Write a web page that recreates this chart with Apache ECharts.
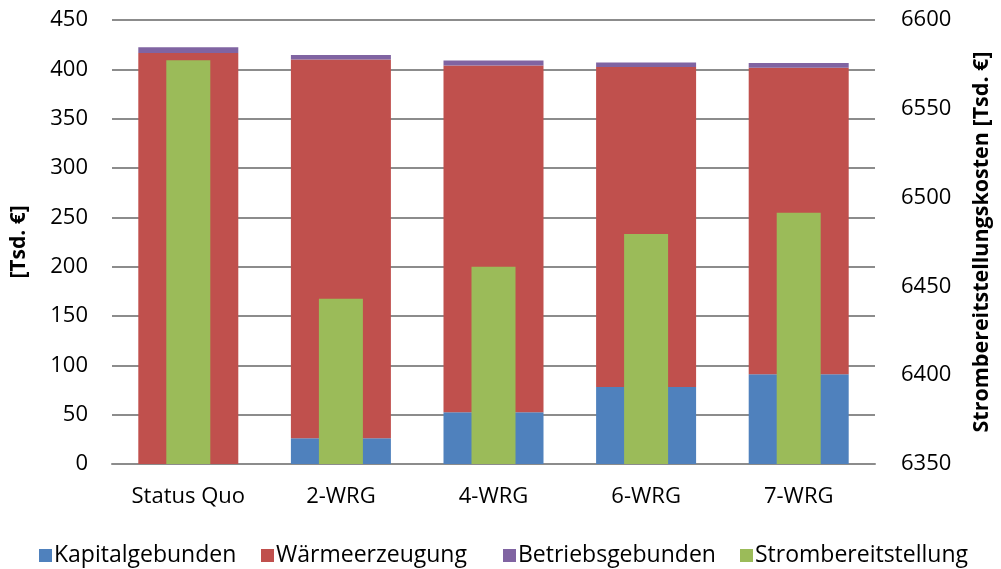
<!DOCTYPE html>
<html>
<head>
<meta charset="utf-8">
<script src="https://cdn.jsdelivr.net/npm/echarts@6/dist/echarts.min.js"></script>
<style>
  html, body { margin: 0; padding: 0; background: #fff; }
  #chart { width: 1001px; height: 569px; }
</style>
</head>
<body>
<div id="chart"></div>
<script>
// Szenarien
const categories = ['Status Quo', '2-WRG', '4-WRG', '6-WRG', '7-WRG'];

// Kostenanteile [Tsd. €], linke Achse (gestapelt)
const kapitalgebunden = [0, 26, 52.4, 78, 91];
const waermeerzeugung = [416.5, 384, 351.6, 324.3, 310.7];
const betriebsgebunden = [6, 4.5, 5, 4.7, 4.7];

// Strombereitstellungskosten [Tsd. €], rechte Achse
const strombereitstellung = [6577.3, 6443, 6461, 6479.5, 6491.5];

// Achsenbeschriftungen
const leftTicks = { min: 0, max: 450, interval: 50 };
const rightTicks = { min: 6350, max: 6600, interval: 50 };

const seriesNames = ['Kapitalgebunden', 'Wärmeerzeugung', 'Betriebsgebunden', 'Strombereitstellung'];
const legendLeft = [34, 256, 498, 735];

const FONT = '"Open Sans", "Liberation Sans", sans-serif';
const TEXT = '#000';
const FS = 22;

const chart = echarts.init(document.getElementById('chart'), null, { renderer: 'canvas' });

const stackBar = (name, data, color) => ({
  name, type: 'bar', stack: 'kosten', data,
  xAxisIndex: 0, yAxisIndex: 0,
  barWidth: 100,
  itemStyle: { color },
  emphasis: { disabled: true }
});

chart.setOption({
  animation: false,
  textStyle: { fontFamily: FONT },
  grid: { left: 112, right: 124, top: 20, bottom: 105 },
  legend: seriesNames.map((n, i) => ({
    left: legendLeft[i], top: 539,
    itemWidth: 13, itemHeight: 13,
    icon: 'rect',
    textStyle: { fontFamily: FONT, fontSize: 23, color: TEXT, padding: [0, 0, 0, -3] },
    data: [n]
  })),
  xAxis: [
    {
      type: 'category', data: categories,
      axisLine: { show: true, lineStyle: { color: '#8c8c8c', width: 2 } },
      axisTick: { show: false },
      axisLabel: { color: TEXT, fontSize: FS, margin: 22, fontFamily: FONT }
    },
    {
      type: 'category', data: categories, show: false
    }
  ],
  yAxis: [
    {
      type: 'value', position: 'left',
      min: leftTicks.min, max: leftTicks.max, interval: leftTicks.interval,
      name: '[Tsd. €]', nameLocation: 'middle', nameGap: 82, nameRotate: 90,
      nameTextStyle: { fontWeight: 'bold', fontSize: 21, color: TEXT, fontFamily: FONT },
      axisLine: { show: false }, axisTick: { show: false },
      axisLabel: { color: TEXT, fontSize: FS, margin: 24, fontFamily: FONT },
      splitLine: { lineStyle: { color: '#8c8c8c', width: 2 } }
    },
    {
      type: 'value', position: 'right',
      min: rightTicks.min, max: rightTicks.max, interval: rightTicks.interval,
      name: 'Strombereitstellungskosten [Tsd. €]', nameLocation: 'middle', nameGap: 96, nameRotate: 90,
      nameTextStyle: { fontWeight: 'bold', fontSize: 21.5, color: TEXT, fontFamily: FONT },
      axisLine: { show: false }, axisTick: { show: false },
      axisLabel: { color: TEXT, fontSize: FS, margin: 26, fontFamily: FONT, formatter: v => String(v) },
      splitLine: { show: false }
    }
  ],
  series: [
    stackBar('Kapitalgebunden', kapitalgebunden, '#4F81BD'),
    stackBar('Wärmeerzeugung', waermeerzeugung, '#C0504D'),
    stackBar('Betriebsgebunden', betriebsgebunden, '#8064A2'),
    {
      name: 'Strombereitstellung', type: 'bar', data: strombereitstellung,
      xAxisIndex: 1, yAxisIndex: 1,
      barWidth: 44, clip: true,
      itemStyle: { color: '#9BBB59' },
      emphasis: { disabled: true }
    }
  ]
});
</script>
</body>
</html>
